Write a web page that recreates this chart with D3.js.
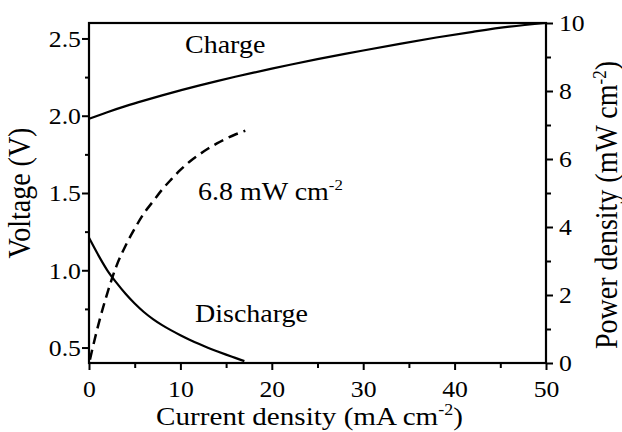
<!DOCTYPE html>
<html lang="en">
<head>
<meta charset="UTF-8">
<script src="https://cdn.jsdelivr.net/npm/d3@7"></script>
<style>
  body { margin: 0; background: #fff; }
  text { font-family: "Liberation Serif", "Times New Roman", serif; fill: #000; }
</style>
</head>
<body>
<script>
  // charge curve: current density (mA cm-2) vs voltage (V)
  const chargeI = [0, 2, 4, 6, 8, 10, 12, 14, 16, 18, 20, 22, 25, 28, 30, 34, 38, 42, 46, 50];
  const chargeV = [1.98, 2.023, 2.062, 2.098, 2.132, 2.164, 2.195, 2.224, 2.252, 2.279, 2.305, 2.33, 2.366, 2.40, 2.422, 2.465, 2.506, 2.543, 2.576, 2.60];
  // discharge curve
  const dischargeI = [0, 1, 2, 3, 4, 5, 6, 7, 8, 9, 10, 11, 12, 13, 14, 15, 16, 17];
  const dischargeV = [1.21, 1.10, 1.0, 0.92, 0.848, 0.785, 0.73, 0.684, 0.645, 0.611, 0.58, 0.551, 0.524, 0.499, 0.476, 0.454, 0.433, 0.412];
  // power density (dashed, right axis)
  const powerI = [0.1, 1, 2, 3, 4, 5, 6, 7, 8, 9, 10, 11, 12, 13, 14, 15, 16, 17.1];
  const powerP = [0.1, 1.1, 2.05, 2.85, 3.45, 3.95, 4.4, 4.75, 5.1, 5.4, 5.68, 5.92, 6.12, 6.3, 6.46, 6.6, 6.72, 6.83];

  const xTicks = [0, 10, 20, 30, 40, 50];
  const xMinor = [5, 15, 25, 35, 45];
  const yTicks = [0.5, 1.0, 1.5, 2.0, 2.5];
  const yMinor = [0.75, 1.25, 1.75, 2.25];
  const pTicks = [0, 2, 4, 6, 8, 10];
  const pMinor = [1, 3, 5, 7, 9];

  const w = 622, h = 432;
  const mLeft = 89, mRight = 546, mTop = 23, mBottom = 363;
  const stretch = 1.12;

  const x = d3.scaleLinear().domain([0, 50]).range([mLeft, mRight]);
  const y = d3.scaleLinear().domain([0.4, 2.6]).range([mBottom, mTop]);
  const yP = d3.scaleLinear().domain([0, 10]).range([mBottom, mTop]);

  const svg = d3.select("body").append("svg")
      .attr("width", w)
      .attr("height", h);

  function styleAxis(g) {
    g.select(".domain").remove();
    g.selectAll("line").attr("stroke", "#000").attr("stroke-width", 2);
  }

  // bottom axis
  svg.append("g")
      .attr("transform", "translate(0," + mBottom + ")")
      .call(d3.axisBottom(x).tickValues(xTicks).tickSize(7).tickFormat(d3.format("d")))
      .call(styleAxis)
      .call(g => g.selectAll("text")
          .attr("y", 0).attr("dy", null)
          .attr("transform", "translate(0,34) scale(" + stretch + ",1)")
          .style("font-size", "23px"));
  svg.append("g")
      .attr("transform", "translate(0," + mBottom + ")")
      .call(d3.axisBottom(x).tickValues(xMinor).tickSize(5).tickFormat(""))
      .call(styleAxis);

  // left axis
  svg.append("g")
      .attr("transform", "translate(" + mLeft + ",0)")
      .call(d3.axisLeft(y).tickValues(yTicks).tickSize(7).tickFormat(d3.format(".1f")))
      .call(styleAxis)
      .call(g => g.selectAll("text")
          .attr("x", 0).attr("dy", "0.34em")
          .attr("transform", "translate(-8,0) scale(" + stretch + ",1)")
          .style("font-size", "23px"));
  svg.append("g")
      .attr("transform", "translate(" + mLeft + ",0)")
      .call(d3.axisLeft(y).tickValues(yMinor).tickSize(4).tickFormat(""))
      .call(styleAxis);

  // right axis
  svg.append("g")
      .attr("transform", "translate(" + mRight + ",0)")
      .call(d3.axisRight(yP).tickValues(pTicks).tickSize(7).tickFormat(d3.format("d")))
      .call(styleAxis)
      .call(g => g.selectAll("text")
          .attr("x", 0).attr("dy", "0.34em")
          .attr("transform", "translate(13,0) scale(" + stretch + ",1)")
          .style("font-size", "23px"));
  svg.append("g")
      .attr("transform", "translate(" + mRight + ",0)")
      .call(d3.axisRight(yP).tickValues(pMinor).tickSize(5).tickFormat(""))
      .call(styleAxis);

  // frame
  svg.append("rect")
      .attr("x", mLeft).attr("y", mTop)
      .attr("width", mRight - mLeft).attr("height", mBottom - mTop)
      .attr("fill", "none").attr("stroke", "#000").attr("stroke-width", 2.2);

  const lineV = d3.line()
      .x(d => x(d[0])).y(d => y(d[1]))
      .curve(d3.curveMonotoneX);
  const lineP = d3.line()
      .x(d => x(d[0])).y(d => yP(d[1]))
      .curve(d3.curveMonotoneX);

  svg.append("path")
      .datum(d3.zip(chargeI, chargeV))
      .attr("d", lineV)
      .attr("fill", "none").attr("stroke", "#000").attr("stroke-width", 2.2);
  svg.append("path")
      .datum(d3.zip(dischargeI, dischargeV))
      .attr("d", lineV)
      .attr("fill", "none").attr("stroke", "#000").attr("stroke-width", 2.2);
  svg.append("path")
      .datum(d3.zip(powerI, powerP))
      .attr("d", lineP)
      .attr("fill", "none").attr("stroke", "#000").attr("stroke-width", 2.5)
      .attr("stroke-dasharray", "10,6");

  // annotations
  svg.append("text")
      .attr("transform", "translate(185,53) scale(" + stretch + ",1)")
      .style("font-size", "25px")
      .text("Charge");
  svg.append("text")
      .attr("transform", "translate(195,322) scale(" + stretch + ",1)")
      .style("font-size", "25px")
      .text("Discharge");
  const ann = svg.append("text")
      .attr("transform", "translate(198,200) scale(" + stretch + ",1)")
      .style("font-size", "25px");
  ann.append("tspan").text("6.8 mW cm");
  ann.append("tspan").attr("dy", -10).style("font-size", "15px").text("-2");

  // axis titles
  const xt = svg.append("text")
      .attr("transform", "translate(" + ((mLeft + mRight) / 2 - 8) + ",425) scale(" + stretch + ",1)")
      .attr("text-anchor", "middle")
      .style("font-size", "26px");
  xt.append("tspan").text("Current density (mA cm");
  xt.append("tspan").attr("dy", -10).style("font-size", "16px").text("-2");
  xt.append("tspan").attr("dy", 10).text(")");

  svg.append("text")
      .attr("transform", "translate(30," + ((mTop + mBottom) / 2) + ") rotate(-90) scale(1," + stretch + ")")
      .attr("text-anchor", "middle")
      .style("font-size", "28px")
      .text("Voltage (V)");

  const yt = svg.append("text")
      .attr("transform", "translate(617," + ((mTop + mBottom) / 2 + 12) + ") rotate(-90) scale(1," + stretch + ")")
      .attr("text-anchor", "middle")
      .style("font-size", "28px");
  yt.append("tspan").text("Power density (mW cm");
  yt.append("tspan").attr("dy", -10).style("font-size", "17px").text("-2");
  yt.append("tspan").attr("dy", 10).text(")");
</script>
</body>
</html>
